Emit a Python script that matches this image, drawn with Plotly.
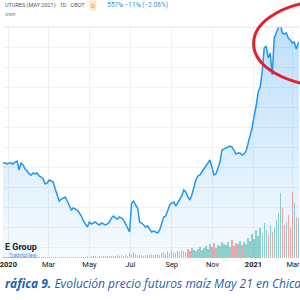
import plotly.graph_objects as go
import pandas as pd

# Daily-ish sampling (every 3 days) of the corn May-2021 futures close (cents/bu)
dates = pd.date_range("2019-12-24", periods=149, freq="3D")
price = [
    404, 404, 403, 404, 404, 403, 405, 406, 397, 404,
    402, 398, 396, 393, 392, 394, 393, 394, 391, 390,
    388, 383, 384, 387, 386, 385, 378, 372, 366, 368,
    369, 370, 366, 361, 357, 359, 358, 357, 354, 351,
    346, 343, 340, 345, 343, 344, 345, 343, 342, 344,
    343, 342, 343, 345, 349, 351, 349, 348, 350, 349,
    347, 343, 338, 335, 364, 366, 362, 359, 345, 344,
    342, 340, 341, 338, 335, 336, 335, 334, 337, 345,
    350, 351, 356, 362, 364, 365, 361, 364, 368, 371,
    377, 375, 370, 367, 372, 379, 387, 391, 392, 395,
    398, 401, 405, 407, 400, 392, 393, 398, 405, 417,
    418, 419, 420, 421, 420, 416, 413, 414, 414, 412,
    413, 416, 424, 432, 439, 451, 461, 475, 480, 495,
    519, 521, 509, 514, 492, 529, 534, 537, 544, 534,
    533, 534, 529, 527, 524, 525, 518, 524, 525,
]
volume = [
    0.8, 0.8, 0.8, 0.8, 0.8, 0.8, 0.8, 0.8, 0.8, 0.8,
    0.8, 0.8, 0.8, 0.8, 0.8, 0.8, 0.8, 0.8, 0.8, 0.8,
    1.2, 1.2, 1.2, 1.2, 1.2, 1.2, 1.2, 1.2, 1.2, 1.2,
    1.2, 1.2, 1.2, 1.2, 1.2, 1.2, 1.2, 1.2, 1.2, 1.2,
    1.2, 1.5, 2.0, 1.5, 2.5, 1.8, 2.0, 1.5, 2.2, 1.8,
    2.5, 2.0, 1.8, 2.2, 2.5, 2.0, 2.5, 3.0, 2.2, 2.8,
    2.5, 3.0, 2.5, 5.0, 4.0, 6.0, 4.0, 3.0, 3.0, 3.0,
    2.5, 3.0, 3.5, 3.0, 4.0, 3.0, 3.5, 4.0, 3.0, 5.0,
    6.0, 4.0, 7.0, 5.0, 8.0, 6.0, 5.0, 7.0, 6.0, 8.0,
    7.0, 6.0, 9.0, 7.0, 10.0, 8.0, 7.0, 9.0, 11.0, 8.0,
    10.0, 12.0, 9.0, 14.0, 11.0, 15.0, 10.0, 13.0, 12.0, 16.0,
    14.0, 13.0, 16.0, 11.0, 18.0, 12.0, 15.0, 14.0, 17.0, 13.0,
    16.0, 14.0, 20.0, 17.0, 24.0, 19.0, 28.0, 22.0, 30.0, 25.0,
    35.0, 28.0, 24.0, 33.0, 26.0, 30.0, 38.0, 45.0, 65.0, 50.0,
    33.0, 36.0, 43.0, 30.0, 66.0, 55.0, 41.0, 40.0, 33.0,
]
tick_vals = ["2020-01-01", "2020-03-01", "2020-05-01", "2020-07-01",
             "2020-09-01", "2020-11-01", "2021-01-01", "2021-03-01"]
tick_text = ["<b>2020</b>", "Mar", "May", "Jul", "Sep", "Nov", "<b>2021</b>", "Mar"]

UP = "rgba(38,166,154,0.5)"
DOWN = "rgba(239,83,80,0.5)"
vol_colors = [UP if i == 0 or price[i] >= price[i - 1] else DOWN for i in range(len(price))]

Y_LO, Y_HI = 309, 540

fig = go.Figure()
fig.add_trace(go.Scatter(
    x=dates, y=price, mode="lines",
    line=dict(color="#2196f3", width=1.5),
    fill="tozeroy",
    fillgradient=dict(type="vertical", start=Y_LO, stop=Y_HI,
                      colorscale=[[0, "rgba(33,150,243,0.04)"], [1, "rgba(33,150,243,0.30)"]]),
    hoverinfo="skip",
))
fig.add_trace(go.Bar(
    x=dates, y=volume, marker=dict(color=vol_colors, line=dict(width=0)),
    width=2 * 86400000, yaxis="y2", hoverinfo="skip",
))

def px(x):
    return x / 300.0

def py(y):
    return 1 - y / 300.0

fig.update_layout(
    width=300, height=300,
    margin=dict(l=0, r=0, t=0, b=0),
    paper_bgcolor="white", plot_bgcolor="white",
    showlegend=False,
    xaxis=dict(type="date", range=["2019-12-24", "2021-03-10"],
               tickvals=tick_vals, ticktext=tick_text, ticks="",
               ticklabeloverflow="allow",
               showgrid=True, gridcolor="#eef1f5", gridwidth=1,
               zeroline=False, showline=False,
               tickfont=dict(family="Roboto", size=7.5, color="#131722")),
    yaxis=dict(domain=[py(258), py(27)], range=[Y_LO, Y_HI],
               tick0=0, dtick=20, showgrid=True, gridcolor="#eef1f5",
               showticklabels=False, zeroline=False, showline=False),
    yaxis2=dict(overlaying="y", range=[0, 231], visible=False),
    bargap=0,
    shapes=[
        dict(type="line", xref="paper", yref="paper", x0=0, x1=1, y0=py(27), y1=py(27),
             line=dict(color="#dde2ea", width=1)),
        dict(type="circle", xref="paper", yref="paper",
             x0=px(254), x1=px(406), y0=py(86), y1=py(1),
             line=dict(color="#e3202b", width=3)),
    ],
    annotations=[
        dict(text="UTURES (MAY 2021) · 1D · CBOT", xref="paper", yref="paper",
             x=0, y=py(5.5), xanchor="left", yanchor="middle", showarrow=False,
             font=dict(family="Roboto", size=5.5, color="#50535e")),
        dict(text="D", xref="paper", yref="paper", x=px(91), y=py(5.5),
             xanchor="center", yanchor="middle", showarrow=False, bgcolor="#ffe7c2",
             borderpad=1, font=dict(family="Roboto", size=6, color="#f0911f")),
        dict(text="557¾ −11¾ (−2.06%)", xref="paper", yref="paper",
             x=px(103), y=py(5.5), xanchor="left", yanchor="middle", showarrow=False,
             font=dict(family="Roboto", size=6.5, color="#3a8ee0")),
        dict(text="own", xref="paper", yref="paper",
             x=0, y=py(13.5), xanchor="left", yanchor="middle", showarrow=False,
             font=dict(family="Roboto", size=5.5, color="#26a69a")),
        dict(text="<b>E Group</b>", xref="paper", yref="paper",
             x=0, y=py(247), xanchor="left", yanchor="middle", showarrow=False,
             font=dict(family="Roboto", size=9, color="#222")),
        dict(text="TradingView", xref="paper", yref="paper",
             x=px(4), y=py(255), xanchor="left", yanchor="middle", showarrow=False,
             font=dict(family="Roboto", size=5, color="#3a8ee0")),
        dict(text="<b><i>ráfica 9.</i></b><i> Evolución precio futuros maíz May 21 en Chica</i>",
             xref="paper", yref="paper", x=0, y=py(283),
             xanchor="left", yanchor="middle", showarrow=False,
             font=dict(family="Open Sans", size=12, color="#1f5fae")),
    ],
)

fig.write_html("out.html")
